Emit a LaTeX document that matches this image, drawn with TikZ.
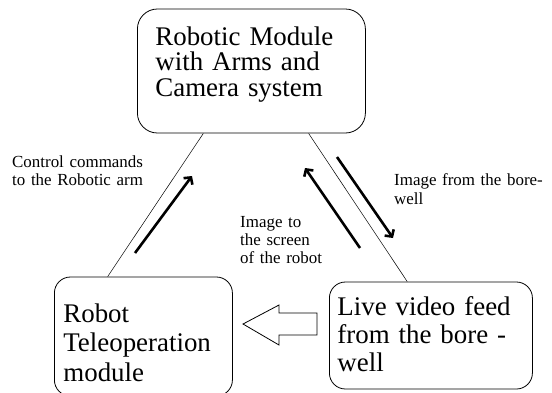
\documentclass[tikz,border=0pt]{standalone}
\usepackage{fontspec}
\setmainfont{Liberation Serif}
\usetikzlibrary{calc,arrows.meta}
\tikzset{module/.style={draw, line width=0.8bp, rounded corners=16bp, anchor=base west, align=left, inner ysep=0pt},
	remark/.style={anchor=base west, align=left, inner sep=0pt, font=\fontsize{17}{18.3}\selectfont},
	flow/.style={line width=2.6bp, -{Straight Barb[length=5bp,width=11bp]}},
	link/.style={line width=0.5bp}}

\begin{document}
\begin{tikzpicture}[x=1bp, y=-1bp]
	\useasboundingbox (0,0) rectangle (552,392);
	% the three modules
	\node[module, inner xsep=18bp, text width=192bp, text height=36bp, text depth=88bp, rounded corners=20bp,
		font=\fontsize{27}{26}\selectfont] (robot) at (137,45) {Robotic Module\\with Arms and\\Camera system};
	\node[module, inner xsep=9bp, text width=160bp, text height=45bp, text depth=74bp,
		font=\fontsize{27}{30}\selectfont] (tele) at (54,322) {Robot\\Teleoperation\\module};
	\node[module, inner xsep=8bp, text width=187bp, text height=33bp, text depth=74bp,
		font=\fontsize{27}{28.3}\selectfont] (feed) at (329,315) {Live video feed\\from the bore -\\well};
	% links
	\draw[link] ($(robot.south west)!0.29!(robot.south east)$) -- ($(tele.north west)!0.3!(tele.north east)$);
	\draw[link] ($(robot.south west)!0.75!(robot.south east)$) -- ($(feed.north west)!0.384!(feed.north east)$);
	% data flow
	\draw[flow] (135,253) -- (192,176);
	\draw[flow] (360,248) -- (305,168);
	\draw[flow] (337,157) -- (393,238);
	\draw[line width=0.8bp] (317,313) -- (279,313) -- (279,305) -- (243,324) -- (279,345) -- (279,335) -- (317,335) -- cycle;
	% labels
	\node[remark, text width=140bp] (ctrl) at (12,167) {Control commands\\to the Robotic arm};
	\node[remark, text width=90bp] (toscreen) at (240,227) {Image to\\the screen\\of the robot};
	\node[remark, text width=150bp, font=\fontsize{17}{20}\selectfont] (fromwell) at (394,185) {Image from the bore-\\well};
\end{tikzpicture}
\end{document}
